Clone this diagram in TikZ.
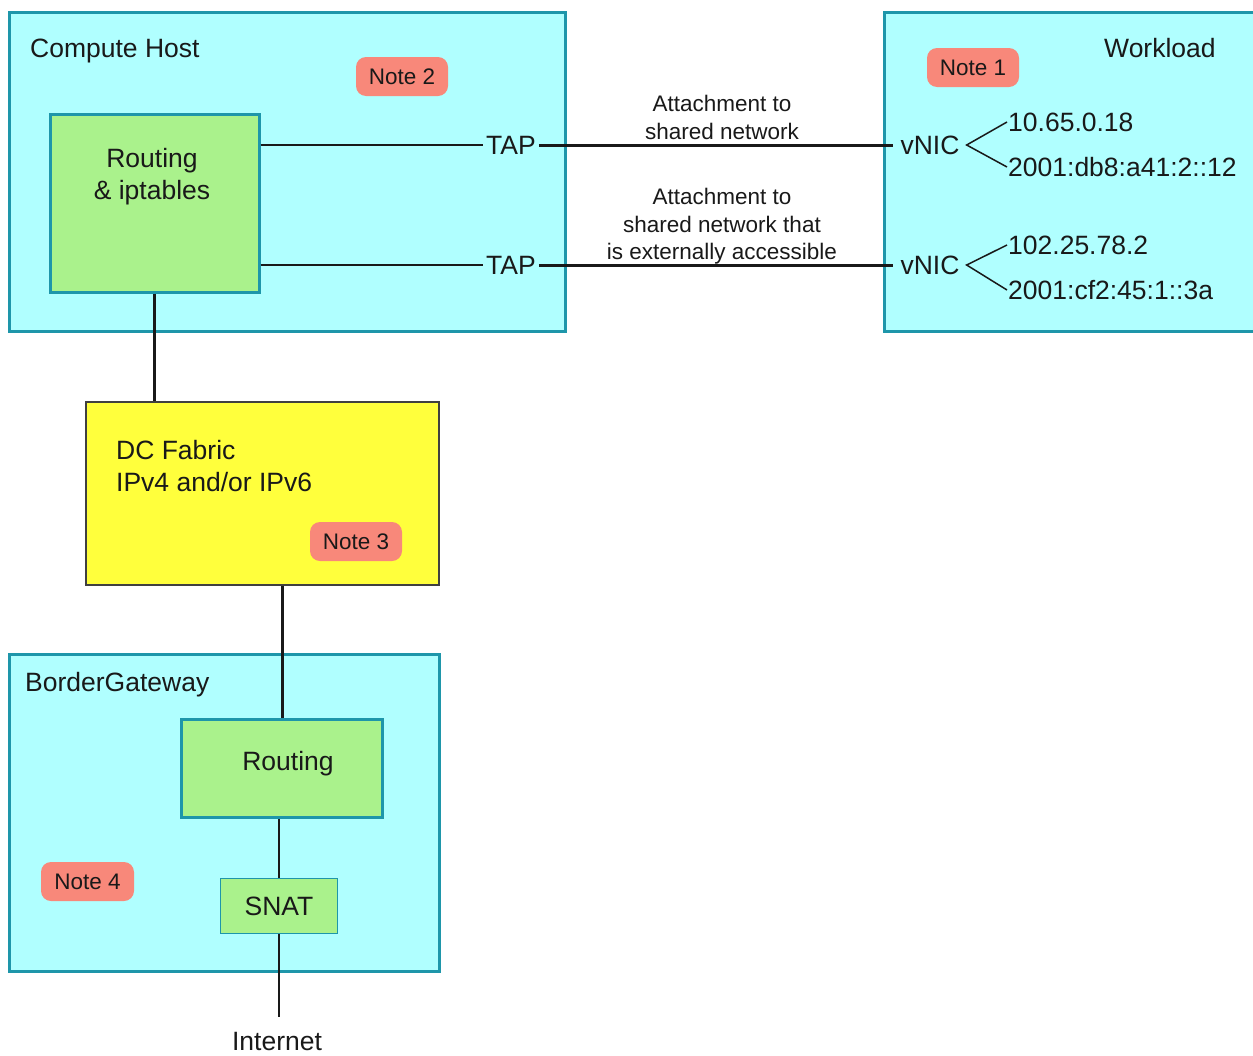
\documentclass[tikz,border=0pt]{standalone}
\usepackage{fontspec}
\setmainfont{Liberation Sans}
\definecolor{cyanfill}{RGB}{176,255,255}
\definecolor{tealline}{RGB}{30,150,170}
\definecolor{greenfill}{RGB}{170,242,140}
\definecolor{notefill}{RGB}{248,136,122}
\definecolor{yellowfill}{RGB}{255,255,60}
\definecolor{txt}{RGB}{25,25,25}
\begin{document}
\begin{tikzpicture}[x=1pt,y=-1pt,
 bigfont/.style={font=\fontsize{26.5}{32}\selectfont},
 smallfont/.style={font=\fontsize{22.5}{27.5}\selectfont},
 container/.style={draw=tealline, line width=3pt, fill=cyanfill, anchor=north west, inner sep=0pt},
 greenbox/.style={draw=tealline, fill=greenfill, anchor=north west, inner sep=0pt},
 notebox/.style={fill=notefill, rounded corners=10pt, minimum width=92pt, minimum height=39pt, inner sep=0pt, smallfont, text=txt},
 lbl/.style={inner sep=0pt, text=txt},
 thinline/.style={line width=1.5pt, draw=txt},
 thickline/.style={line width=3pt, draw=txt}]
\useasboundingbox (0,0) rectangle (1253,1055);
\clip (0,0) rectangle (1253,1055);
% containers
\node[container, minimum width=556pt, minimum height=319pt] (host) at (8,11) {};
\node[container, minimum width=380pt, minimum height=319pt] (work) at (883,11) {};
\node[draw=black!75, line width=1.5pt, fill=yellowfill, anchor=north west, inner sep=0pt, minimum width=353pt, minimum height=183pt] (dc) at (85,401) {};
\node[container, minimum width=430pt, minimum height=317pt] (bg) at (8,653) {};
\node[greenbox, line width=2.5pt, minimum width=209pt, minimum height=178pt] (rt) at (49,113) {};
\node[greenbox, line width=3pt, minimum width=201pt, minimum height=98pt] (brt) at (180,718) {};
\node[greenbox, line width=1pt, minimum width=117pt, minimum height=55pt, bigfont, text=txt] (snat) at (220,878) {SNAT};
% texts
\node[lbl, bigfont, anchor=base west] (hosttext) at (30,57) {Compute Host};
\node[lbl, bigfont, anchor=base west] (worktext) at (1104,57) {Workload};
\node[notebox] (n2) at (402,76.5) {Note 2};
\node[notebox] (n1) at (973,67.5) {Note 1};
\node[notebox] (n3) at (356,541.5) {Note 3};
\node[notebox, minimum width=93pt] (n4) at (87.5,881.5) {Note 4};
\node[lbl, bigfont, align=center, anchor=north] (rttext) at (152,148.5) {Routing\\\& iptables};
\node[lbl, bigfont, inner xsep=3pt] (tap1) at (511,145) {TAP};
\node[lbl, bigfont, inner xsep=3pt] (tap2) at (511,265) {TAP};
\node[lbl, bigfont, inner xsep=7pt] (vnic1) at (930,145) {vNIC};
\node[lbl, bigfont, inner xsep=7pt] (vnic2) at (930,265) {vNIC};
\node[lbl, bigfont, anchor=west, inner xsep=1pt] (ip1) at (1007,122) {10.65.0.18};
\node[lbl, bigfont, anchor=west, inner xsep=1pt] (ip2) at (1007,167) {2001:db8:a41:2::12};
\node[lbl, bigfont, anchor=west, inner xsep=1pt] (ip3) at (1007,245) {102.25.78.2};
\node[lbl, bigfont, anchor=west, inner xsep=1pt] (ip4) at (1007,290) {2001:cf2:45:1::3a};
\node[lbl, smallfont, align=center, anchor=north] (att1) at (722,95) {Attachment to\\shared network};
\node[lbl, smallfont, align=center, anchor=north] (att2) at (722,188) {Attachment to\\shared network that\\is externally accessible};
\node[lbl, bigfont, align=left, anchor=north west] (dctext) at (116,440.5) {DC Fabric\\IPv4 and/or IPv6};
\node[lbl, bigfont, anchor=base west] (bgtext) at (25,691.5) {BorderGateway};
\node[lbl, bigfont] (brttext) at (288,764) {Routing};
\coordinate (inet) at (278,1017);
\node[lbl, bigfont, anchor=base] (internet) at (277,1050) {Internet};
% connectors
\draw[thinline] (rt.east |- tap1) -- (tap1.west);
\draw[thinline] (rt.east |- tap2) -- (tap2.west);
\draw[thickline] (tap1.east) -- (vnic1.west);
\draw[thickline] (tap2.east) -- (vnic2.west);
\draw[thinline] (ip1.west) -- (vnic1.east) -- (ip2.west);
\draw[thinline] (ip3.west) -- (vnic2.east) -- (ip4.west);
\draw[thickline] (rt.south) -- (rt.south |- dc.north);
\draw[thickline] (brt.north |- dc.south) -- (brt.north);
\draw[thinline] (snat.north |- brt.south) -- (snat.north);
\draw[thinline] (snat.south) -- (snat.south |- inet);
\end{tikzpicture}
\end{document}
